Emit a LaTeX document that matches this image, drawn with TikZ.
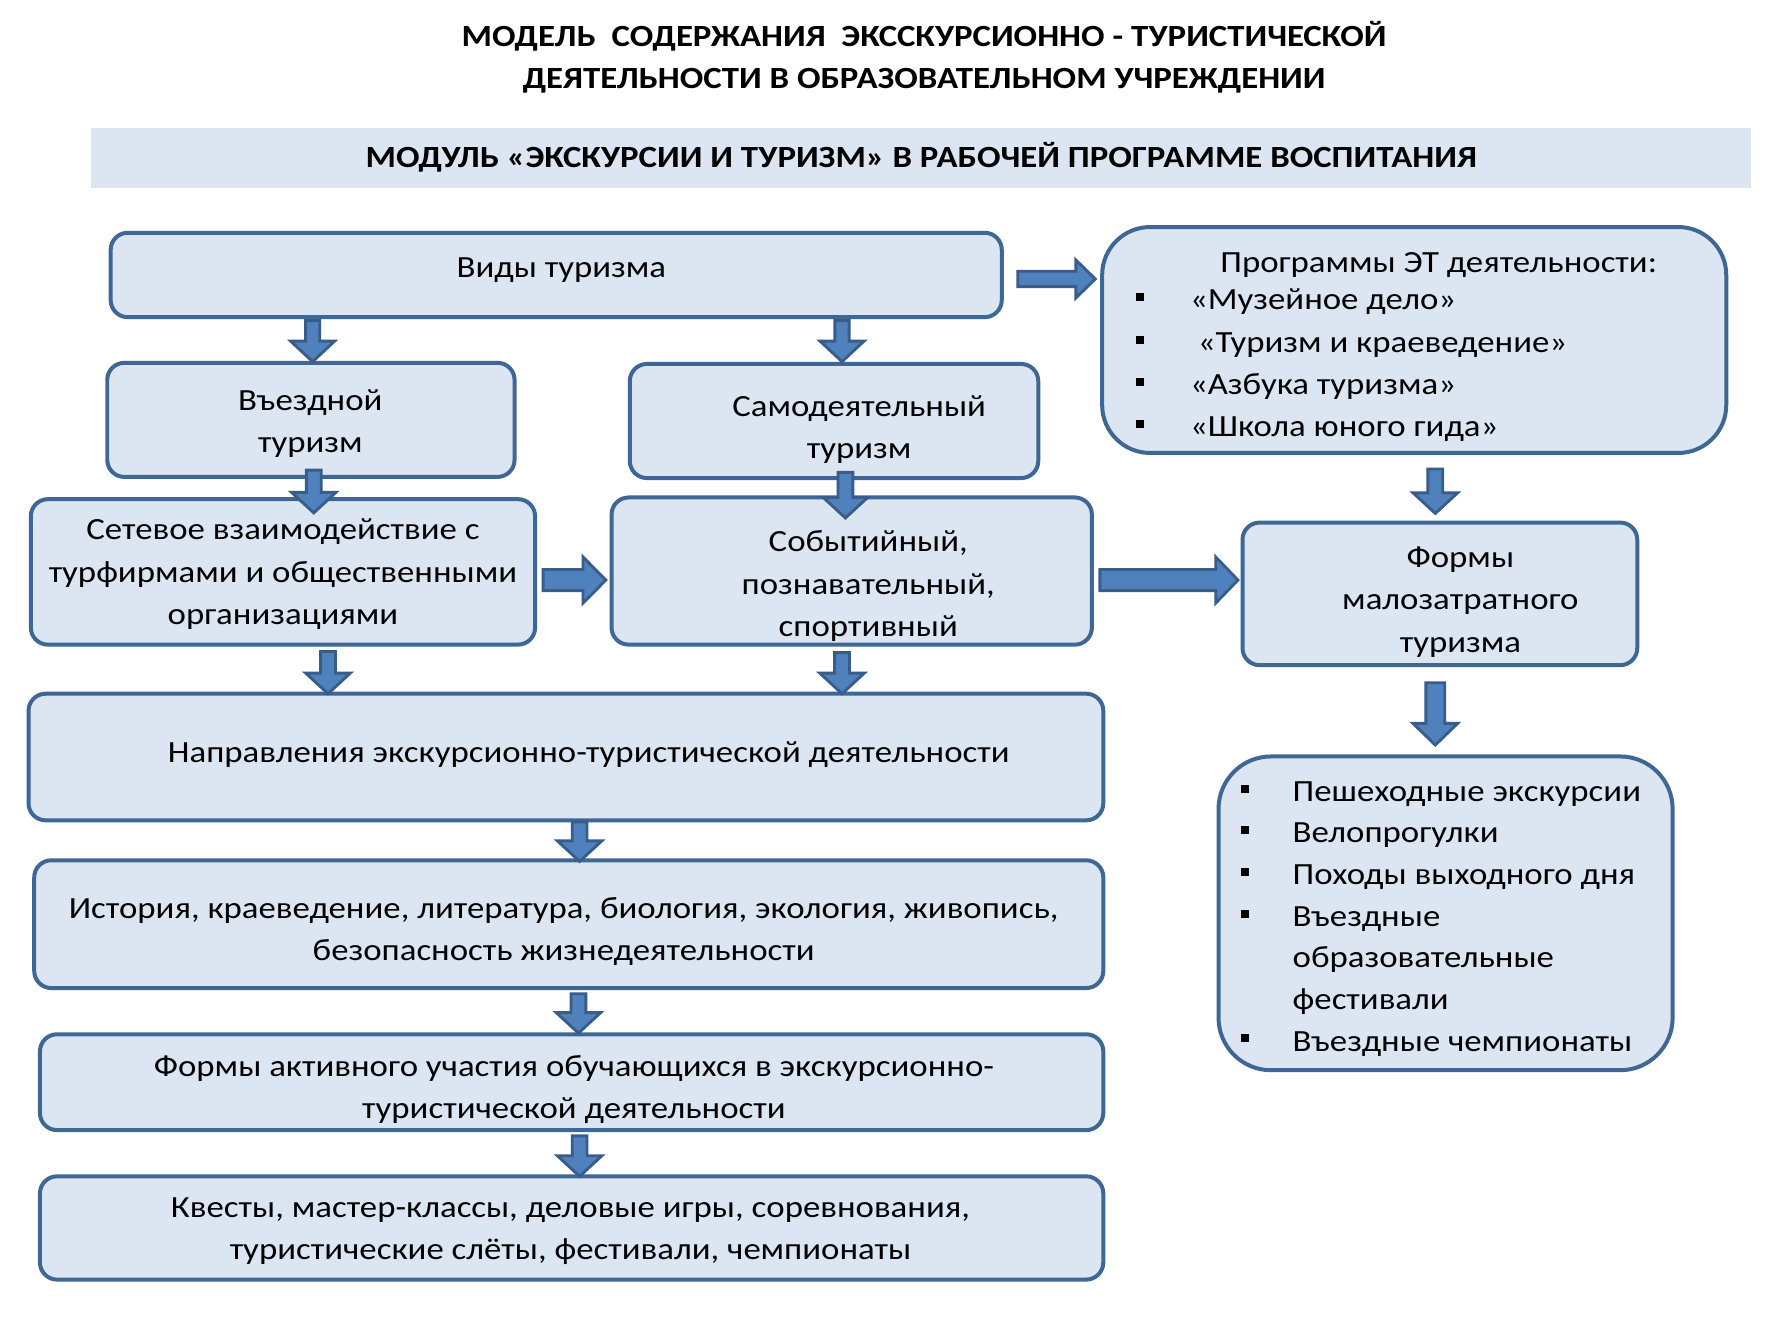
\documentclass[tikz,border=0pt]{standalone}
\usepackage{fontspec}
\setmainfont{Carlito}[FakeStretch=1.13]
\usetikzlibrary{calc}
\definecolor{boxfill}{HTML}{DCE6F2}
\definecolor{boxline}{HTML}{3E6796}
\definecolor{arrfill}{HTML}{4F81BD}
\definecolor{arrline}{HTML}{385D8A}
\newcommand\sst{\rule[-8pt]{0pt}{32pt}}
\newcommand\bul{\rule[7.5pt]{7pt}{7pt}}
% vertical block arrow: x, from, to, start offset (down), tip offset (down), shaft half, head half, head length
\newcommand\darr[8]{%
  \path[blk] let \p1=(#1,0 |- #2.south), \p2=(#1,0 |- #3.north) in
    ({\x1-#6pt},{\y1-1pt*(#4)}) -- ({\x1+#6pt},{\y1-1pt*(#4)}) --
    ({\x1+#6pt},{\y2-1pt*(#5)+#8pt}) -- ({\x1+#7pt},{\y2-1pt*(#5)+#8pt}) --
    ({\x1},{\y2-1pt*(#5)}) --
    ({\x1-#7pt},{\y2-1pt*(#5)+#8pt}) -- ({\x1-#6pt},{\y2-1pt*(#5)+#8pt}) -- cycle;}
% horizontal block arrow: y, from, to, start offset (right), tip offset (right), shaft half, head half, head length
\newcommand\rarr[8]{%
  \path[blk] let \p1=(#2.east |- 0,#1), \p2=(#3.west |- 0,#1) in
    ({\x1+1pt*(#4)},{\y1+#6pt}) -- ({\x2+1pt*(#5)-#8pt},{\y1+#6pt}) --
    ({\x2+1pt*(#5)-#8pt},{\y1+#7pt}) -- ({\x2+1pt*(#5)},{\y1}) --
    ({\x2+1pt*(#5)-#8pt},{\y1-#7pt}) -- ({\x2+1pt*(#5)-#8pt},{\y1-#6pt}) --
    ({\x1+1pt*(#4)},{\y1-#6pt}) -- cycle;}
\begin{document}
\begin{tikzpicture}[x=1pt,y=-1pt,
  box/.style={draw=boxline, line width=3.5pt, fill=boxfill, rounded corners=15pt,
    inner sep=0pt, outer sep=0pt, anchor=north west},
  bigbox/.style={box, rounded corners=42pt},
  txt/.style={inner sep=0pt, outer sep=0pt, align=center, yshift=-3.5pt,
    font=\fontsize{27}{37}\selectfont,
    execute at begin node=\sst, execute at end node=\sst},
  lst/.style={txt, align=left, anchor=west},
  lst2/.style={lst, font=\fontsize{27}{36.5}\selectfont},
  ttl/.style={txt, font=\fontsize{27}{37}\selectfont\bfseries},
  band/.style={ttl, yshift=2pt, fill=boxfill, minimum width=1455pt, minimum height=52pt},
  blk/.style={fill=arrfill, draw=arrline, line width=2.5pt, line join=miter}]
\useasboundingbox (0,0) rectangle (1568,1175.3);
\fill[white] (0,0) rectangle (1568,1175.3);

% title and band
\node[ttl] (title) at (810,48.5) {МОДЕЛЬ\ \ СОДЕРЖАНИЯ\ \ ЭКССКУРСИОННО - ТУРИСТИЧЕСКОЙ\\ДЕЯТЕЛЬНОСТИ В ОБРАЗОВАТЕЛЬНОМ УЧРЕЖДЕНИИ};
\node[band] (band) at (807.5,137) {МОДУЛЬ «ЭКСКУРСИИ И ТУРИЗМ» В РАБОЧЕЙ ПРОГРАММЕ ВОСПИТАНИЯ};

% boxes
\node[box, minimum width=781pt, minimum height=74pt] (vidy) at (97,204) {};
\node[box, minimum width=357pt, minimum height=100pt] (vezd) at (94,318) {};
\node[box, minimum width=358pt, minimum height=100pt] (samo) at (552,319) {};
\node[box, minimum width=442pt, minimum height=127.5pt] (setev) at (27,437.5) {};
\node[box, minimum width=421pt, minimum height=129pt] (sobyt) at (536,436) {};
\node[bigbox, minimum width=547pt, minimum height=198pt] (prog) at (966,199) {};
\node[box, minimum width=346pt, minimum height=125pt] (formy) at (1089,458) {};
\node[bigbox, rounded corners=46pt, minimum width=398pt, minimum height=275pt] (spisok) at (1068,663) {};
\node[box, minimum width=942pt, minimum height=111pt] (napr) at (25,608) {};
\node[box, minimum width=937pt, minimum height=112pt] (ist) at (30,754) {};
\node[box, minimum width=932pt, minimum height=84pt] (fakt) at (35,906.5) {};
\node[box, minimum width=932pt, minimum height=90.5pt] (kvest) at (35,1031) {};

% texts
\node[txt] (vidyT) at (492,232) {Виды туризма};
\node[txt] (vezdT) at (272,369.5) {Въездной\\туризм};
\node[txt] (samoT) at (753,374.5) {Самодеятельный\\туризм};
\node[txt] (setevT) at (248,501.5) {Сетевое взаимодействие с\\турфирмами и общественными\\организациями};
\node[txt] (sobytT) at (761,512) {Событийный,\\познавательный,\\спортивный};
\node[txt] (progT) at (1261,227) {Программы ЭТ деятельности:};
\node[lst] (progL) at (996,318.5) {\makebox[47pt][l]{\bul}«Музейное дело»\\
  \makebox[47pt][l]{\bul}\ «Туризм и краеведение»\\
  \makebox[47pt][l]{\bul}«Азбука туризма»\\
  \makebox[47pt][l]{\bul}«Школа юного гида»};
\node[txt] (formyT) at (1280,526) {Формы\\малозатратного\\туризма};
\node[lst2] (spisokL) at (1088,803.5) {\makebox[45pt][l]{\bul}Пешеходные экскурсии\\
  \makebox[45pt][l]{\bul}Велопрогулки\\
  \makebox[45pt][l]{\bul}Походы выходного дня\\
  \makebox[45pt][l]{\bul}Въездные\\
  \hspace*{45pt}образовательные\\
  \hspace*{45pt}фестивали\\
  \makebox[45pt][l]{\bul}Въездные чемпионаты};
\node[txt] (naprT) at (516,657) {Направления экскурсионно-туристической деятельности};
\node[txt] (istT) at (494,815) {История, краеведение, литература, биология, экология, живопись,\\безопасность жизнедеятельности};
\node[txt] (faktT) at (503,953) {Формы активного участия обучающихся в экскурсионно-\\туристической деятельности};
\node[txt] (kvestT) at (500,1077) {Квесты, мастер-классы, деловые игры, соревнования,\\туристические слёты, фестивали, чемпионаты};

% block arrows
\darr{274}{vidy}{vezd}{3}{-1}{6.25}{19.25}{18}
\darr{738}{vidy}{samo}{3}{-2}{6.25}{19.25}{18}
\rarr{244.5}{vidy}{prog}{14}{-6}{6.75}{16.6}{17}
\darr{275}{vezd}{setev}{-6}{12}{6.5}{19.5}{18}
\darr{741}{samo}{sobyt}{-5}{18}{6.5}{19.5}{18}
\rarr{508.4}{setev}{sobyt}{7}{-5}{9.25}{20.25}{20}
\rarr{508.4}{sobyt}{formy}{7}{-4}{9.25}{20.25}{19.5}
\darr{1258}{prog}{formy}{14}{-8}{6.5}{19.5}{18}
\darr{1258}{formy}{spisok}{15.4}{-10}{8.25}{19.6}{19}
\darr{287.5}{setev}{napr}{6}{0}{6.5}{19.5}{18}
\darr{738}{sobyt}{napr}{7}{0}{6.5}{19.5}{18}
\darr{508}{napr}{ist}{1.5}{1}{6.5}{19.5}{18}
\darr{507}{ist}{fakt}{5}{-1}{6.5}{19.5}{18}
\darr{508}{fakt}{kvest}{5}{0}{6.5}{19.5}{18}
\end{tikzpicture}
\end{document}
